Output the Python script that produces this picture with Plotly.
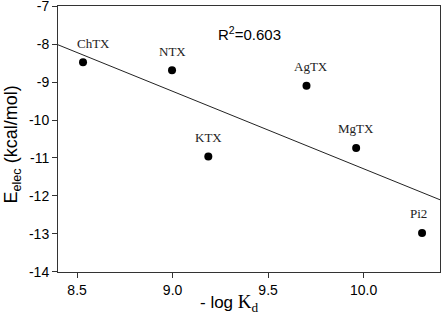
import numpy as np
import plotly.graph_objects as go

names = ["ChTX", "NTX", "AgTX", "KTX", "MgTX", "Pi2"]
neg_log_kd = [8.531, 8.997, 9.701, 9.187, 9.961, 10.306]
e_elec = [-8.478, -8.688, -9.10, -10.963, -10.735, -12.974]
x_ticks = [8.5, 9.0, 9.5, 10.0]
y_ticks = [-7, -8, -9, -10, -11, -12, -13, -14]

x = np.array(neg_log_kd)
y = np.array(e_elec)
slope, intercept = np.polyfit(x, y, 1)
r2 = np.corrcoef(x, y)[0, 1] ** 2
x_range = [8.4, 10.4]
fit_x = np.array(x_range)
fit_y = slope * fit_x + intercept

fig = go.Figure()
fig.add_trace(go.Scatter(x=fit_x, y=fit_y, mode="lines",
                         line=dict(color="#222", width=1), showlegend=False))
fig.add_trace(go.Scatter(x=x, y=y, mode="markers",
                         marker=dict(color="black", size=8), showlegend=False))

label_xshift = {"ChTX": 10, "AgTX": 5, "Pi2": -4}
for n, xi, yi in zip(names, neg_log_kd, e_elec):
    fig.add_annotation(x=xi, y=yi, text=n, showarrow=False, yshift=19,
                       xshift=label_xshift.get(n, 0),
                       font=dict(family="Liberation Serif, Times New Roman, serif", size=13, color="#222"))

fig.add_annotation(x=9.404, y=-7.717, text=f"R<sup>2</sup>={r2:.3f}", showarrow=False,
                   font=dict(family="Arial, Liberation Sans, sans-serif", size=15, color="black"))

# axis titles
fig.add_annotation(xref="paper", yref="paper", x=0.45, y=-0.115, yanchor="middle",
                   text="- log <span style='font-family:Liberation Serif; font-size:19px'>K<sub>d</sub></span>",
                   showarrow=False,
                   font=dict(family="Arial, Liberation Sans, sans-serif", size=17, color="black"))
fig.add_annotation(xref="paper", yref="paper", x=-0.12, y=0.48, xanchor="center", yanchor="middle",
                   textangle=-90, text="E<sub>elec</sub> (kcal/mol)", showarrow=False,
                   font=dict(family="Arial, Liberation Sans, sans-serif", size=18, color="black"))

axis_common = dict(showline=True, linecolor="#333", linewidth=1, mirror=True, automargin=False,
                   ticks="outside", ticklen=5, tickcolor="#333", showgrid=False, zeroline=False,
                   ticklabeloverflow="allow",
                   tickfont=dict(family="Arial, Liberation Sans, sans-serif", size=14, color="black"))

fig.update_layout(
    width=442, height=325,
    margin=dict(l=58, r=2, t=6, b=53),
    plot_bgcolor="white", paper_bgcolor="white",
    xaxis=dict(range=x_range, tickvals=x_ticks, ticktext=[f"{v:.1f}" for v in x_ticks],
               **axis_common),
    yaxis=dict(range=[-14.001, -6.999], tickvals=y_ticks, ticktext=[str(v) for v in y_ticks],
               **axis_common),
)

fig.write_html("out.html", config={"displayModeBar": False},
               post_script="document.body.style.margin='0px';")
